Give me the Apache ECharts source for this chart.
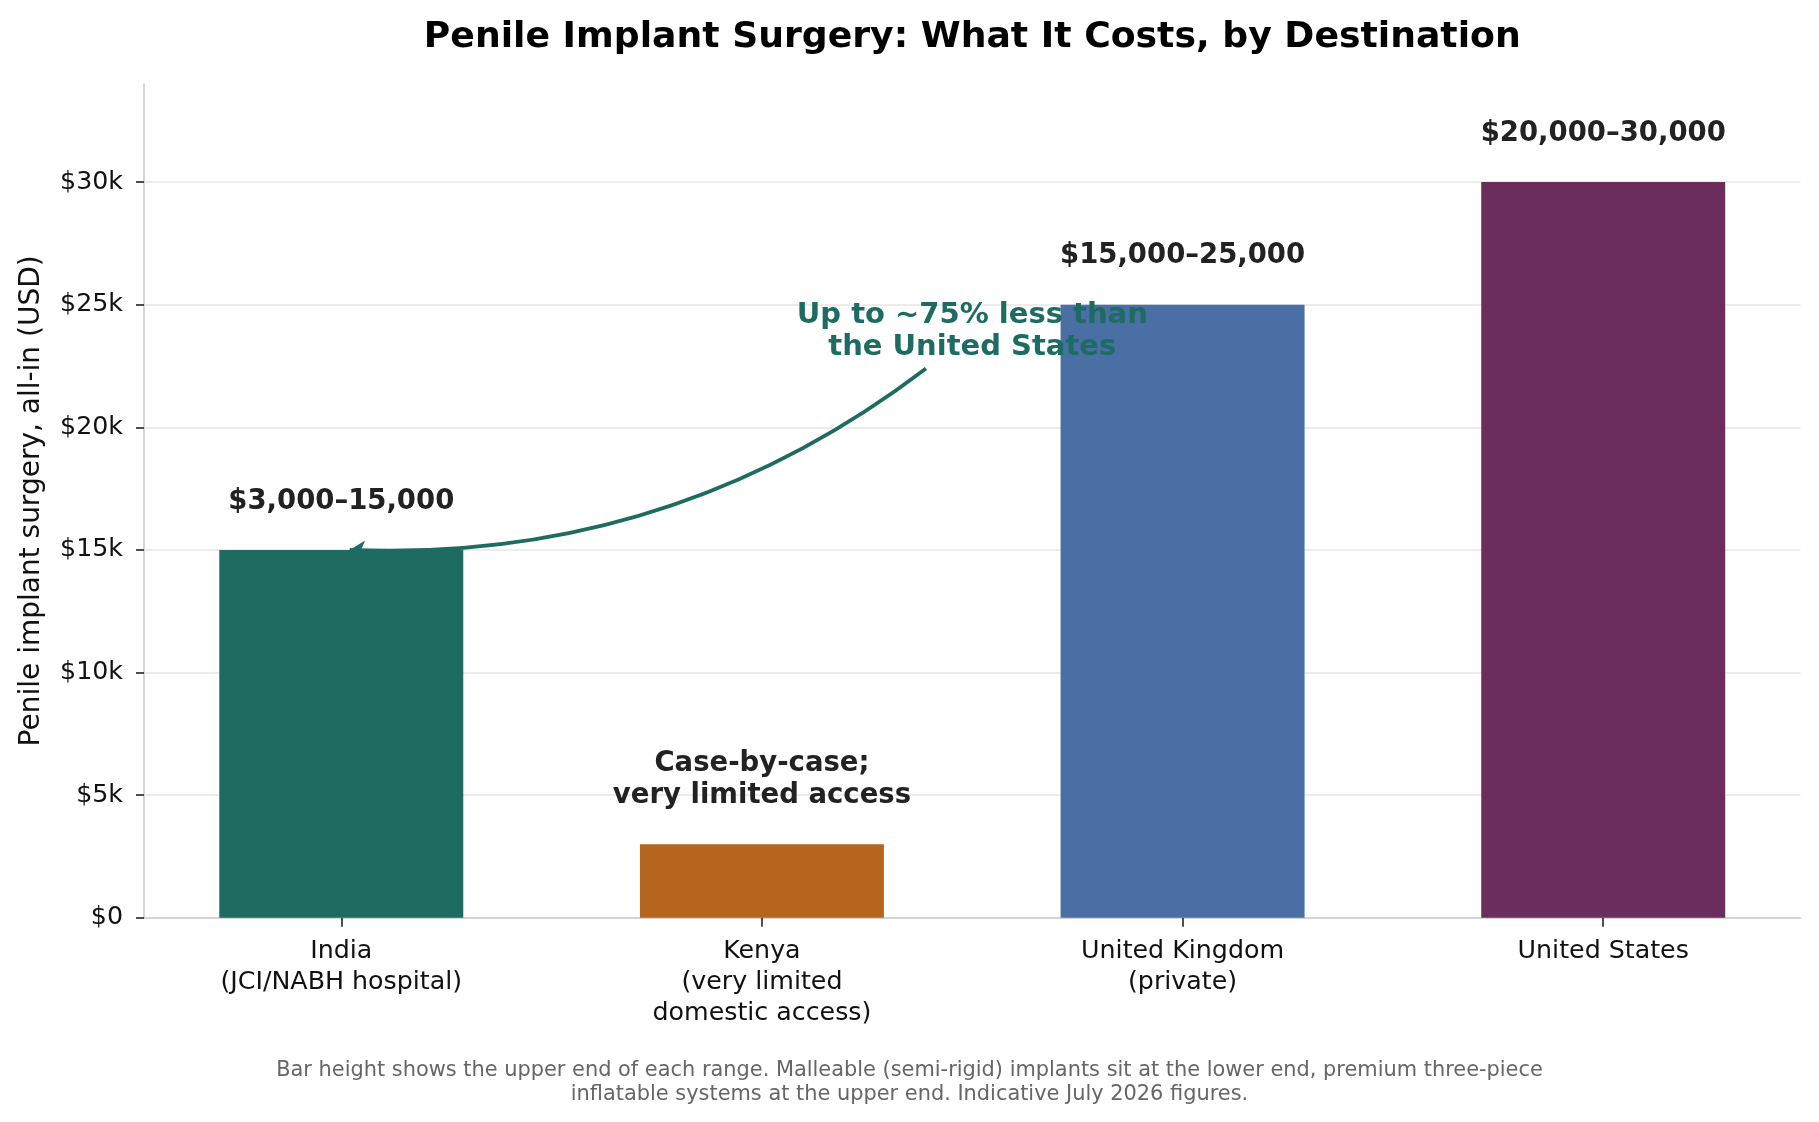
<!DOCTYPE html>
<html><head><meta charset="utf-8">
<script src="https://cdn.jsdelivr.net/npm/echarts@6/dist/echarts.min.js"></script>
<style>html,body{margin:0;padding:0;background:#fff}#c{width:1819px;height:1122px}</style>
</head><body><div id="c"></div>
<script>
// ---- data ----
const categories = ['India\n(JCI/NABH hospital)', 'Kenya\n(very limited\ndomestic access)', 'United Kingdom\n(private)', 'United States'];
const upperCosts = [15000, 3000, 25000, 30000];
const rangeLabels = ['$3,000–15,000', 'Case-by-case;\nvery limited access', '$15,000–25,000', '$20,000–30,000'];
const yTickValues = [0, 5000, 10000, 15000, 20000, 25000, 30000];
const yMax = 34000;
const calloutText = 'Up to ~75% less than\nthe United States';
const calloutTextAt = [1.5, 23900];
const calloutArrowFrom = [1.39, 22400];
const calloutArrowTo = [0.02, 15000];
const titleText = 'Penile Implant Surgery: What It Costs, by Destination';
const yAxisTitle = 'Penile implant surgery, all-in (USD)';
const footnoteText = 'Bar height shows the upper end of each range. Malleable (semi-rigid) implants sit at the lower end, premium three-piece\ninflatable systems at the upper end. Indicative July 2026 figures.';

// ---- styles ----
const barColors = ['#1d6b61', '#b5651d', '#4a6fa5', '#6b2d5c'];
const accent = '#1d6b61';
const FONT = '"DejaVu Sans", sans-serif';
const W = 1819, H = 1122;
const GRID = {left: 144, right: 18.5, top: 84, bottom: 204.3};
const plotCenterX = GRID.left + (W - GRID.left - GRID.right) / 2;

const xIdx = categories.map((_, i) => i);
const chart = echarts.init(document.getElementById('c'), null, {renderer: 'canvas'});

const option = {
  backgroundColor: '#fff',
  animation: false,
  textStyle: {fontFamily: FONT},
  grid: {left: GRID.left, right: GRID.right, top: GRID.top, bottom: GRID.bottom, containLabel: false},
  graphic: [
    {type: 'text', x: plotCenterX, y: 38, silent: true,
     style: {text: titleText, align: 'center', verticalAlign: 'middle', fontFamily: FONT, fontWeight: 'bold', fontSize: 36.2, fill: '#000'}},
    {type: 'text', x: W / 2, y: 1082.5, silent: true,
     style: {text: footnoteText, align: 'center', verticalAlign: 'middle', fontFamily: FONT, fontSize: 20.9, lineHeight: 23.5, fill: '#666'}}
  ],
  xAxis: {
    type: 'value', min: -0.469, max: 3.469,
    splitLine: {show: false},
    axisLine: {show: true, onZero: false, lineStyle: {color: '#cccccc', width: 1.6}},
    axisTick: {show: true, customValues: xIdx, length: 9, lineStyle: {color: '#222', width: 1.6}},
    axisLabel: {customValues: xIdx, formatter: v => categories[Math.round(v)] || '', color: '#111',
      fontFamily: FONT, fontSize: 25.3, lineHeight: 31, margin: 18, align: 'center', verticalAlign: 'top'}
  },
  yAxis: {
    type: 'value', min: 0, max: yMax, interval: 5000,
    name: yAxisTitle, nameLocation: 'middle', nameGap: 98,
    nameTextStyle: {fontFamily: FONT, fontSize: 28, color: '#111'},
    axisLine: {show: true, onZero: false, lineStyle: {color: '#cccccc', width: 1.6}},
    axisTick: {show: true, customValues: yTickValues, length: 8, lineStyle: {color: '#222', width: 1.6}},
    axisLabel: {customValues: yTickValues, formatter: v => v === 0 ? '$0' : '$' + (v / 1000) + 'k',
      color: '#111', fontFamily: FONT, fontSize: 25.3, margin: 21},
    splitLine: {show: true, lineStyle: {color: '#e6e6e6', width: 1.6}}
  },
  series: [
    {
      type: 'bar', barWidth: '58%',
      data: upperCosts.map((v, i) => ({value: [i, v], itemStyle: {color: barColors[i]}})),
      label: {show: true, position: 'top', distance: 32.5,
        formatter: p => rangeLabels[p.dataIndex],
        fontFamily: FONT, fontWeight: 'bold', fontSize: 27.5, lineHeight: 32, color: '#222', align: 'center'},
      z: 2
    },
    {
      type: 'lines', coordinateSystem: 'cartesian2d', silent: true, z: 4,
      symbol: ['none', 'arrow'], symbolSize: 15,
      lineStyle: {color: accent, width: 3.8, curveness: 0.18, opacity: 1},
      data: [{coords: [calloutArrowFrom, calloutArrowTo]}]
    },
    {
      type: 'scatter', silent: true, symbolSize: 0, itemStyle: {color: accent}, z: 5,
      data: [calloutTextAt],
      label: {show: true, position: 'top', distance: 0, formatter: () => calloutText,
        fontFamily: FONT, fontWeight: 'bold', fontSize: 29, lineHeight: 32, color: accent, opacity: 1,
        align: 'center', verticalAlign: 'middle'}
    }
  ]
};
chart.setOption(option);
</script>
</body></html>
